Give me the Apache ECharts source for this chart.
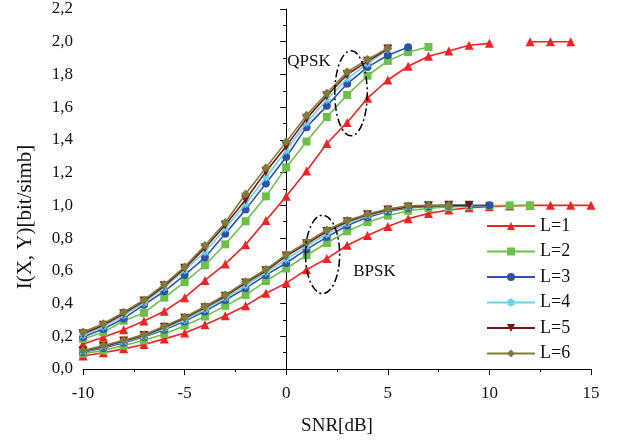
<!DOCTYPE html>
<html>
<head>
<meta charset="utf-8">
<script src="https://cdn.jsdelivr.net/npm/echarts@6/dist/echarts.min.js"></script>
<style>html,body{margin:0;padding:0;background:#fff;}#c{width:618px;height:441px;}</style>
</head>
<body>
<div id="c"></div>
<script>
const snr = [-10,-9,-8,-7,-6,-5,-4,-3,-2,-1,0,1,2,3,4,5,6,7,8,9,10,11,12,13,14,15];

const qpskL1 = [0.153,0.194,0.24,0.293,0.353,0.436,0.541,0.642,0.76,0.907,1.055,1.21,1.378,1.507,1.655,1.766,1.85,1.911,1.943,1.978,1.99,null,2.0,2.0,2.0];
const qpskL2 = [0.184,0.224,0.295,0.343,0.436,0.531,0.634,0.762,0.903,1.055,1.232,1.39,1.54,1.675,1.792,1.883,1.937,1.968];
const qpskL3 = [0.196,0.244,0.309,0.392,0.475,0.574,0.681,0.826,0.974,1.133,1.296,1.478,1.608,1.743,1.845,1.917,1.966];
const qpskL4 = [0.206,0.258,0.328,0.405,0.498,0.603,0.715,0.858,1.008,1.17,1.335,1.505,1.645,1.775,1.865,1.952];
const qpskL5 = [0.216,0.268,0.338,0.415,0.508,0.615,0.74,0.88,1.034,1.206,1.362,1.53,1.67,1.8,1.88,1.955];
const qpskL6 = [0.226,0.277,0.347,0.422,0.517,0.624,0.755,0.895,1.069,1.23,1.388,1.55,1.685,1.816,1.892,1.96];

const bpskL1 = [0.079,0.099,0.123,0.15,0.184,0.22,0.271,0.325,0.386,0.463,0.525,0.607,0.675,0.756,0.816,0.871,0.918,0.951,0.972,0.985,0.992,0.996,1.0,1.0,1.0,1.0];
const bpskL2 = [0.093,0.113,0.143,0.176,0.214,0.265,0.321,0.386,0.452,0.537,0.614,0.695,0.77,0.842,0.897,0.937,0.967,0.982,0.99,0.995,0.998,1.0,1.0];
const bpskL3 = [0.103,0.129,0.16,0.196,0.24,0.291,0.352,0.422,0.493,0.574,0.648,0.731,0.806,0.877,0.927,0.962,0.984,0.993,0.998,1.0,1.0];
const bpskL4 = [0.107,0.134,0.166,0.2,0.248,0.3,0.364,0.435,0.51,0.59,0.67,0.75,0.825,0.89,0.937,0.968,0.988,0.996,1.0,1.0];
const bpskL5 = [0.11,0.138,0.171,0.205,0.255,0.31,0.375,0.445,0.525,0.6,0.69,0.765,0.84,0.9,0.943,0.972,0.99,0.997,1.0,1.0];
const bpskL6 = [0.113,0.143,0.176,0.21,0.261,0.317,0.382,0.452,0.533,0.608,0.699,0.775,0.85,0.907,0.947,0.978,0.998,1.0,1.0];

const names = ['L=1','L=2','L=3','L=4','L=5','L=6'];
const qpsk = [qpskL1,qpskL2,qpskL3,qpskL4,qpskL5,qpskL6];
const bpsk = [bpskL1,bpskL2,bpskL3,bpskL4,bpskL5,bpskL6];

const colors = ['#f02424','#6cc04a','#2f52a8','#6ad2ea','#7a1414','#7f7c3a'];
const symbols = ['triangle','rect','circle','path://M0,-5L0,5M-5,0L5,0M-3.6,-3.6L3.6,3.6M-3.6,3.6L3.6,-3.6','triangle','diamond'];
const symbolSizes = [9,8,8,8,9,9];
const rotates = [0,0,0,0,180,0];

const font = 'Liberation Serif';

function toPairs(vals){ return vals.map((v,i)=>[snr[i], v]); }

const series = [];
for (let k = 0; k < 6; k++) {
  [qpsk[k], bpsk[k]].forEach(vals => {
    const s = {
      name: names[k], type: 'line', data: toPairs(vals),
      symbol: symbols[k], symbolSize: symbolSizes[k], symbolRotate: rotates[k],
      showAllSymbol: true, connectNulls: false,
      lineStyle: {color: colors[k], width: 1.6},
      itemStyle: {color: colors[k]},
      emphasis: {disabled: true}, animation: false, z: 2 + k
    };
    if (k === 3) s.itemStyle = {color: colors[k], borderColor: colors[k], borderWidth: 1.5};
    series.push(s);
  });
}

const chart = echarts.init(document.getElementById('c'));
chart.setOption({
  animation: false,
  backgroundColor: '#fff',
  grid: {left: 83, right: 27, top: 9, bottom: 68},
  legend: {
    orient: 'vertical', left: 486, top: 217, padding: 0,
    itemWidth: 48, itemHeight: 10, itemGap: 7.5,
    data: names,
    textStyle: {fontFamily: font, fontSize: 18, color: '#111'},
    selectedMode: false
  },
  xAxis: {
    type: 'value', min: -10, max: 15, interval: 5,
    name: 'SNR[dB]', nameLocation: 'middle', nameGap: 48,
    nameTextStyle: {fontFamily: font, fontSize: 19, color: '#111'},
    axisLine: {show: true, onZero: false, lineStyle: {color: '#000', width: 1}},
    axisTick: {show: true, inside: false, length: 6, lineStyle: {color: '#000'}},
    minorTick: {show: true, splitNumber: 2, length: 3, lineStyle: {color: '#000'}},
    splitLine: {show: false},
    axisLabel: {fontFamily: font, fontSize: 17, color: '#111', margin: 16}
  },
  yAxis: {
    type: 'value', min: 0, max: 2.2, interval: 0.2,
    axisLine: {show: true, lineStyle: {color: '#000', width: 1}},
    axisTick: {show: true, inside: false, length: 6, lineStyle: {color: '#000'}},
    minorTick: {show: true, splitNumber: 2, length: 3, lineStyle: {color: '#000'}},
    splitLine: {show: false},
    axisLabel: {fontFamily: font, fontSize: 17, color: '#111', margin: 10,
      formatter: v => v.toFixed(1).replace('.', ',')}
  },
  series: series
});

// annotations in data coordinates
const ellipses = [
  {cx: 3.19, cy: 1.685, rx: 0.8, ry: 0.26},
  {cx: 1.79, cy: 0.70, rx: 0.84, ry: 0.24}
];
const labels = [
  {x: 0.05, y: 1.879, text: 'QPSK'},
  {x: 3.3, y: 0.594, text: 'BPSK'}
];
const g = [];
ellipses.forEach(e => {
  const c = chart.convertToPixel({gridIndex: 0}, [e.cx, e.cy]);
  const p = chart.convertToPixel({gridIndex: 0}, [e.cx + e.rx, e.cy + e.ry]);
  g.push({
    type: 'ellipse', x: c[0], y: c[1], rotation: 0,
    shape: {cx: 0, cy: 0, rx: Math.abs(p[0]-c[0]), ry: Math.abs(c[1]-p[1])},
    style: {fill: 'none', stroke: '#000', lineWidth: 1.5, lineDash: [8, 3, 2, 3]},
    z: 100
  });
});
labels.forEach(l => {
  const c = chart.convertToPixel({gridIndex: 0}, [l.x, l.y]);
  g.push({
    type: 'text', x: c[0], y: c[1],
    style: {text: l.text, fontFamily: font, fontSize: 17, fill: '#111', verticalAlign: 'middle', align: 'left'},
    z: 100
  });
});
// y-axis title
g.push({
  type: 'text', x: 25, y: 217, rotation: Math.PI / 2,
  style: {text: 'I(X, Y)[bit/simb]', fontFamily: font, fontSize: 21, fill: '#111', align: 'center', verticalAlign: 'middle'},
  z: 100
});
chart.setOption({graphic: g});
</script>
</body>
</html>
